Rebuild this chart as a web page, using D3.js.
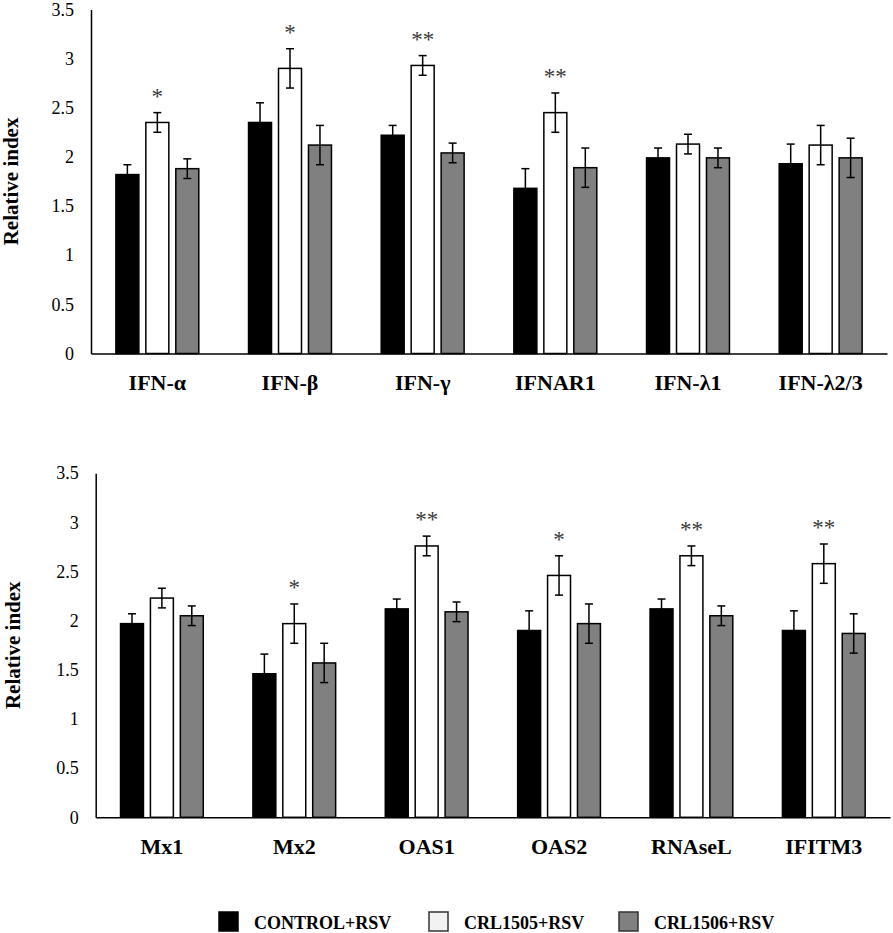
<!DOCTYPE html>
<html>
<head>
<meta charset="utf-8">
<script src="https://cdn.jsdelivr.net/npm/d3@7"></script>
<style>
  body { margin: 0; background: #fff; }
  svg text { font-family: "Times New Roman", "Liberation Serif", serif; }
</style>
</head>
<body>
<div id="chart"></div>
<script>
// series / legend
const seriesNames = ["CONTROL+RSV", "CRL1505+RSV", "CRL1506+RSV"];
const seriesColors = ["#000000", "#ffffff", "#808080"];

// upper panel
const topCategories = ["IFN-α", "IFN-β", "IFN-γ", "IFNAR1", "IFN-λ1", "IFN-λ2/3"];
const topControl = [1.82, 2.35, 2.22, 1.68, 1.99, 1.93];
const topCrl1505 = [2.35, 2.90, 2.93, 2.45, 2.13, 2.12];
const topCrl1506 = [1.88, 2.12, 2.04, 1.89, 1.99, 1.99];
const topControlErr = [0.1, 0.2, 0.1, 0.2, 0.1, 0.2];
const topCrl1505Err = [0.1, 0.2, 0.1, 0.2, 0.1, 0.2];
const topCrl1506Err = [0.1, 0.2, 0.1, 0.2, 0.1, 0.2];
const topSig = ["*", "*", "**", "**", "", ""];

// lower panel
const bottomCategories = ["Mx1", "Mx2", "OAS1", "OAS2", "RNAseL", "IFITM3"];
const bottomControl = [1.97, 1.46, 2.12, 1.90, 2.12, 1.90];
const bottomCrl1505 = [2.23, 1.97, 2.76, 2.46, 2.66, 2.58];
const bottomCrl1506 = [2.05, 1.57, 2.09, 1.97, 2.05, 1.87];
const bottomControlErr = [0.1, 0.2, 0.1, 0.2, 0.1, 0.2];
const bottomCrl1505Err = [0.1, 0.2, 0.1, 0.2, 0.1, 0.2];
const bottomCrl1506Err = [0.1, 0.2, 0.1, 0.2, 0.1, 0.2];
const bottomSig = ["", "*", "**", "*", "**", "**"];

const yTicks = [0, 0.5, 1, 1.5, 2, 2.5, 3, 3.5];
const yLabel = "Relative index";

const width = 893, height = 933;

const svg = d3.select("#chart").append("svg")
    .attr("width", width)
    .attr("height", height);

function drawPanel(box, cats, vals, errs, sig, labelX) {
    const g = svg.append("g");

    const x0 = d3.scaleBand().domain(cats).range([box.left, box.right]).padding(0);
    const x1 = d3.scaleBand().domain(seriesNames)
        .range([0, x0.bandwidth()])
        .paddingInner(0.233).paddingOuter(0.83);
    const y = d3.scaleLinear().domain([0, 3.5]).range([box.bottom, box.top]);

    // bars
    const rows = [];
    cats.forEach((c, i) => {
        seriesNames.forEach((s, j) => {
            rows.push({ c, s, j, v: vals[j][i], e: errs[j][i] });
        });
    });

    g.selectAll("rect.bar")
        .data(rows)
        .join("rect")
        .attr("class", "bar")
        .attr("x", d => x0(d.c) + x1(d.s))
        .attr("y", d => y(d.v))
        .attr("width", x1.bandwidth())
        .attr("height", d => y(0) - y(d.v))
        .attr("fill", d => seriesColors[d.j])
        .attr("stroke", "#000")
        .attr("stroke-width", 1.5);

    // error bars
    const eb = g.selectAll("g.err")
        .data(rows)
        .join("g")
        .attr("class", "err")
        .attr("stroke", "#000")
        .attr("stroke-width", 1.5);
    const cx = d => x0(d.c) + x1(d.s) + x1.bandwidth() / 2;
    eb.append("line")
        .attr("x1", cx).attr("x2", cx)
        .attr("y1", d => y(d.v + d.e)).attr("y2", d => y(d.v - d.e));
    eb.append("line")
        .attr("x1", d => cx(d) - 4).attr("x2", d => cx(d) + 4)
        .attr("y1", d => y(d.v + d.e)).attr("y2", d => y(d.v + d.e));
    eb.append("line")
        .attr("x1", d => cx(d) - 4).attr("x2", d => cx(d) + 4)
        .attr("y1", d => y(d.v - d.e)).attr("y2", d => y(d.v - d.e));

    // significance stars over CRL1505 bar
    g.selectAll("text.sig")
        .data(cats.map((c, i) => ({ c, t: sig[i], v: vals[1][i] + errs[1][i] })))
        .join("text")
        .attr("class", "sig")
        .attr("x", d => x0(d.c) + x1(seriesNames[1]) + x1.bandwidth() / 2)
        .attr("y", d => y(d.v) - 9)
        .attr("text-anchor", "middle")
        .attr("font-size", "23px")
        .attr("fill", "#3a3a3a")
        .text(d => d.t);

    // y axis
    const yAxis = d3.axisLeft(y)
        .tickValues(yTicks)
        .tickFormat(d3.format("~g"))
        .tickSize(0)
        .tickSizeOuter(0)
        .tickPadding(17);
    const ya = g.append("g")
        .attr("transform", `translate(${box.left},0)`)
        .call(yAxis);
    ya.select(".domain").attr("stroke", "#000").attr("stroke-width", 1.5);
    ya.selectAll("text")
        .attr("font-size", "18px")
        .attr("fill", "#000")
        .style("font-family", "'Times New Roman', 'Liberation Serif', serif");

    // x axis
    const xAxis = d3.axisBottom(x0).tickSize(0).tickSizeOuter(0).tickPadding(21);
    const xa = g.append("g")
        .attr("transform", `translate(0,${box.bottom})`)
        .call(xAxis);
    xa.select(".domain").attr("stroke", "#000").attr("stroke-width", 1.5);
    xa.selectAll("text")
        .attr("font-size", "22px")
        .attr("font-weight", "bold")
        .attr("fill", "#000")
        .style("font-family", "'Times New Roman', 'Liberation Serif', serif");

    // y axis title
    g.append("text")
        .attr("transform", `translate(${labelX},${(box.top + box.bottom) / 2}) rotate(-90)`)
        .attr("text-anchor", "middle")
        .attr("font-size", "21px")
        .attr("font-weight", "bold")
        .text(yLabel);
}

drawPanel({ left: 91, right: 887, top: 9.4, bottom: 353.5 },
    topCategories,
    [topControl, topCrl1505, topCrl1506],
    [topControlErr, topCrl1505Err, topCrl1506Err],
    topSig, 18);

drawPanel({ left: 95.7, right: 890, top: 473.2, bottom: 817.3 },
    bottomCategories,
    [bottomControl, bottomCrl1505, bottomCrl1506],
    [bottomControlErr, bottomCrl1505Err, bottomCrl1506Err],
    bottomSig, 20);

// legend
const legendX = [219, 429, 619];
const legend = svg.append("g")
    .selectAll("g")
    .data(seriesNames)
    .join("g")
    .attr("transform", (d, i) => `translate(${legendX[i]},912)`);
legend.append("rect")
    .attr("width", 19)
    .attr("height", 19)
    .attr("fill", (d, i) => i === 1 ? "#f2f2f2" : seriesColors[i])
    .attr("stroke", (d, i) => i === 0 ? "#000" : "#333")
    .attr("stroke-width", 1.5);
legend.append("text")
    .attr("x", 35)
    .attr("y", 17)
    .attr("font-size", "18px")
    .attr("font-weight", "bold")
    .text(d => d);
</script>
</body>
</html>
